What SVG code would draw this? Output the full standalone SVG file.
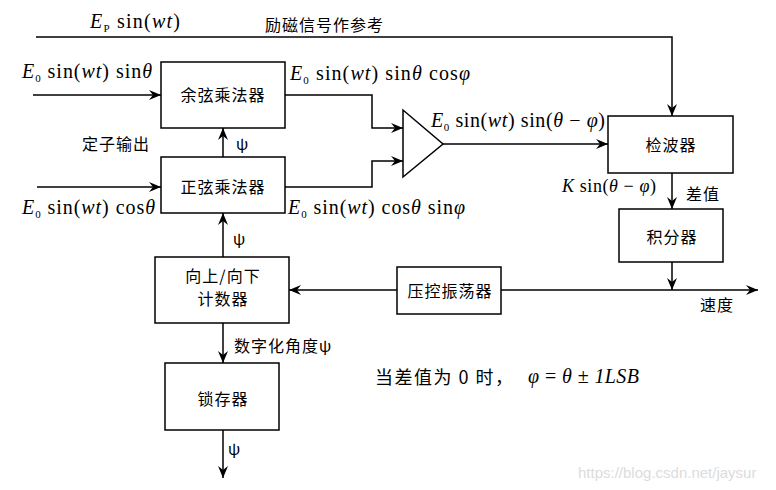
<svg xmlns="http://www.w3.org/2000/svg" width="776" height="490" viewBox="0 0 776 490">
<style>
.box{fill:#fff;stroke:#000;stroke-width:1.5}
.ln{fill:none;stroke:#000;stroke-width:1.5}
.arr{marker-end:url(#ah)}
.cn{font-family:"Noto Sans CJK SC","Noto Sans",sans-serif;font-size:16px;letter-spacing:1px;fill:#000}
.mid{text-anchor:middle}
.m{font-family:"Liberation Serif",serif;font-size:20px;fill:#000}
.i{font-style:italic}
.sub{font-size:11px}
.wm{font-family:"Liberation Sans",sans-serif;font-size:15px;fill:#dcdcdc}
</style>
<defs>
<marker id="ah" markerUnits="userSpaceOnUse" markerWidth="13" markerHeight="11" refX="12" refY="5" orient="auto">
<path d="M0,0 L12,5 L0,10 L4,5 z" fill="#000"/>
</marker>
</defs>
<g id="connectors">
<path class="ln arr" d="M36,37 H672 V116"/>
<path class="ln arr" d="M33,95 H161"/>
<path class="ln arr" d="M37,187 H161"/>
<path class="ln arr" d="M223,157 V128"/>
<path class="ln arr" d="M285,95 H372 V128 H403"/>
<path class="ln arr" d="M285,187 H372 V161 H403"/>
<path class="ln arr" d="M443,144 H608"/>
<path class="ln arr" d="M672,173 V209"/>
<path class="ln arr" d="M672,262 V290"/>
<path class="ln arr" d="M501,290 H758"/>
<path class="ln arr" d="M397,290 H289"/>
<path class="ln arr" d="M223,257 V213"/>
<path class="ln arr" d="M223,323 V363"/>
<path class="ln arr" d="M223,430 V478"/>
</g>
<g id="cos_mult">
<rect class="box" x="161" y="62" width="124" height="66"/>
<text class="cn mid" x="223" y="101">余弦乘法器</text>
</g>
<g id="sin_mult">
<rect class="box" x="161" y="157" width="124" height="56"/>
<text class="cn mid" x="223" y="193">正弦乘法器</text>
</g>
<g id="summer">
<polygon class="box" points="403,110 403,177 443,144"/>
</g>
<g id="detector">
<rect class="box" x="608" y="116" width="125" height="57"/>
<text class="cn mid" x="671" y="151">检波器</text>
</g>
<g id="integrator">
<rect class="box" x="619" y="209" width="104" height="53"/>
<text class="cn mid" x="672" y="243">积分器</text>
</g>
<g id="vco">
<rect class="box" x="397" y="267" width="104" height="47"/>
<text class="cn mid" x="450" y="297">压控振荡器</text>
</g>
<g id="counter">
<rect class="box" x="155" y="257" width="134" height="66"/>
<text class="cn mid" x="223" y="282">向上/向下</text>
<text class="cn mid" x="223" y="305">计数器</text>
</g>
<g id="latch">
<rect class="box" x="165" y="363" width="114" height="67"/>
<text class="cn mid" x="223" y="405">锁存器</text>
</g>
<g id="labels">
<text class="m" x="90" y="28" textLength="90" lengthAdjust="spacing"><tspan class="i">E</tspan><tspan class="sub" dy="4">P</tspan><tspan dy="-4"> sin(</tspan><tspan class="i">wt</tspan>)</text>
<text class="cn" x="265" y="31">励磁信号作参考</text>
<text class="m" x="22" y="78" textLength="130" lengthAdjust="spacing"><tspan class="i">E</tspan><tspan class="sub" dy="4">0</tspan><tspan dy="-4"> sin(</tspan><tspan class="i">wt</tspan>) sin<tspan class="i">θ</tspan></text>
<text class="cn" x="82" y="150">定子输出</text>
<text class="cn" x="236" y="150">ψ</text>
<text class="m" x="22" y="214" textLength="133" lengthAdjust="spacing"><tspan class="i">E</tspan><tspan class="sub" dy="4">0</tspan><tspan dy="-4"> sin(</tspan><tspan class="i">wt</tspan>) cos<tspan class="i">θ</tspan></text>
<text class="m" x="290" y="80" textLength="180" lengthAdjust="spacing"><tspan class="i">E</tspan><tspan class="sub" dy="4">0</tspan><tspan dy="-4"> sin(</tspan><tspan class="i">wt</tspan>) sin<tspan class="i">θ</tspan> cos<tspan class="i">φ</tspan></text>
<text class="m" x="288" y="214" textLength="177" lengthAdjust="spacing"><tspan class="i">E</tspan><tspan class="sub" dy="4">0</tspan><tspan dy="-4"> sin(</tspan><tspan class="i">wt</tspan>) cos<tspan class="i">θ</tspan> sin<tspan class="i">φ</tspan></text>
<text class="m" x="431" y="127" textLength="174" lengthAdjust="spacing"><tspan class="i">E</tspan><tspan class="sub" dy="4">0</tspan><tspan dy="-4"> sin(</tspan><tspan class="i">wt</tspan>) sin(<tspan class="i">θ</tspan> − <tspan class="i">φ</tspan>)</text>
<text class="m" x="562" y="192" style="font-size:18px" textLength="94" lengthAdjust="spacing"><tspan class="i">K</tspan> sin(<tspan class="i">θ</tspan> − <tspan class="i">φ</tspan>)</text>
<text class="cn" x="686" y="200">差值</text>
<text class="cn" x="700" y="311">速度</text>
<text class="cn" x="233" y="245">ψ</text>
<text class="cn" x="234" y="352">数字化角度ψ</text>
<text class="cn" x="228" y="455">ψ</text>
<text class="cn" x="375" y="384" style="font-size:18px;letter-spacing:1.5px">当差值为 0 时，</text>
<text class="m i" x="528" y="383" textLength="111" lengthAdjust="spacing"><tspan>φ</tspan><tspan font-style="normal"> = </tspan>θ<tspan font-style="normal"> ± </tspan>1LSB</text>
<text class="wm" x="578" y="478">https://blog.csdn.net/jaysur</text>
</g>
</svg>
